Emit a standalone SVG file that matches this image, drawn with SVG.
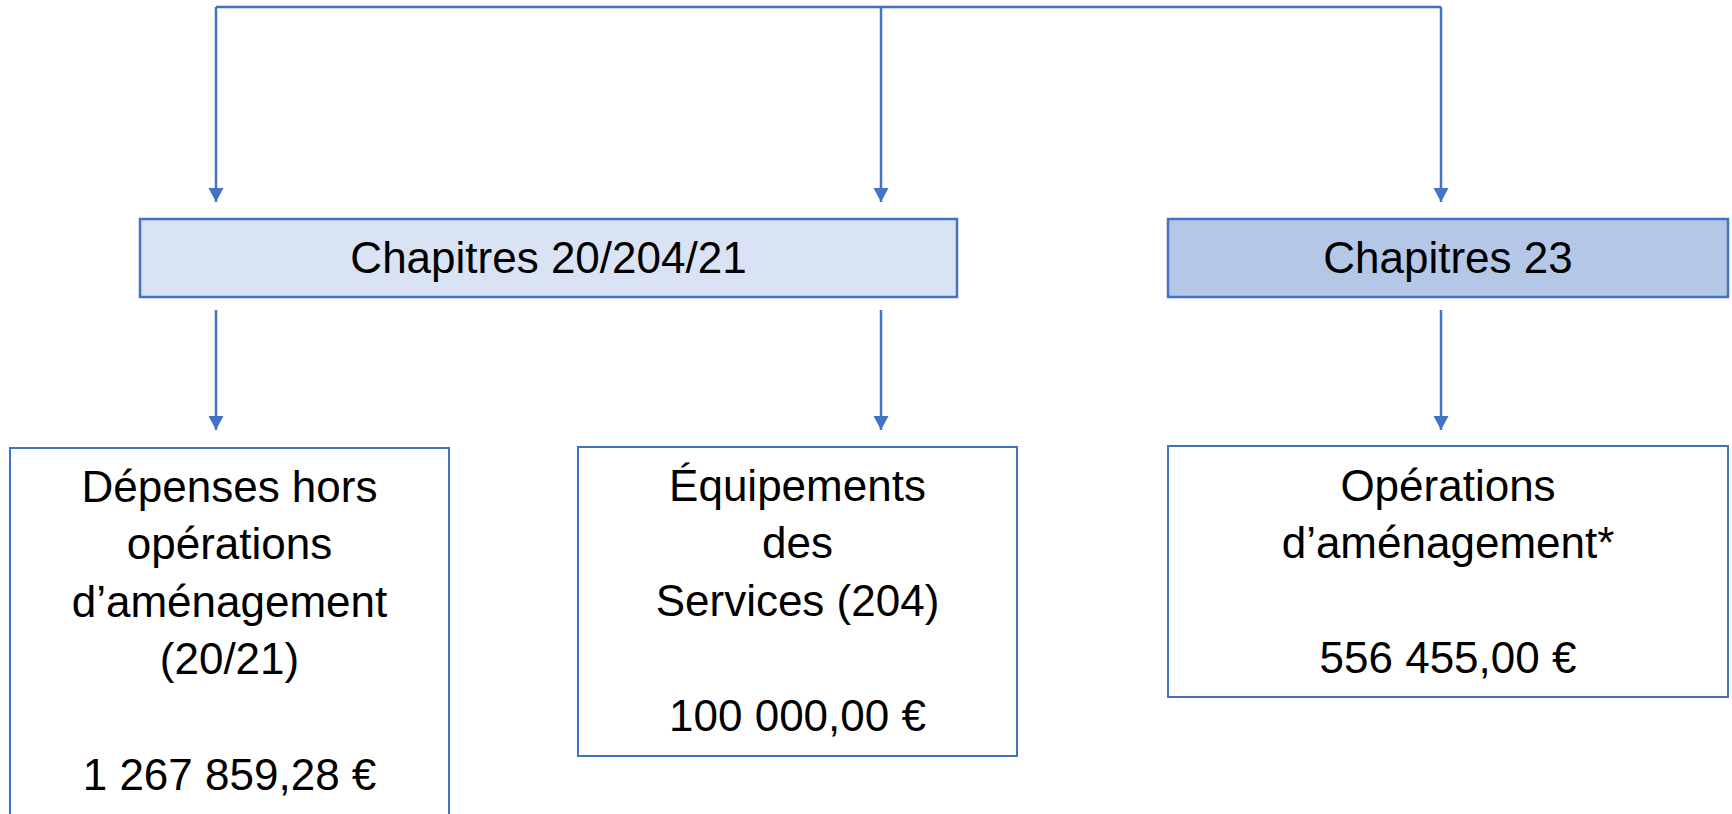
<svg xmlns="http://www.w3.org/2000/svg" width="1732" height="814" viewBox="0 0 1732 814">
  <style>
    .lbl { font-family: "Liberation Sans", Arial, sans-serif; font-size: 44px; fill: #000; text-anchor: middle; }
    .conn { fill: none; stroke: #4472C4; stroke-width: 2.5; }
    .head { fill: #4472C4; stroke: #4472C4; stroke-width: 2; }
    .node { fill: #FFFFFF; stroke: #4472C4; stroke-width: 2; }
    .light { fill: #DAE3F3; stroke: #4472C4; stroke-width: 2.5; }
    .mid { fill: #B4C7E7; stroke: #4472C4; stroke-width: 2.5; }
  </style>
  <defs>
    <marker id="arrow" markerUnits="userSpaceOnUse" markerWidth="16" markerHeight="16" refX="14" refY="7.5" orient="auto" viewBox="0 0 16 16">
      <path d="M0,0 L14,7.5 L0,15 Z" fill="#4472C4"/>
    </marker>
  </defs>
  <rect width="1732" height="814" fill="#FFFFFF"/>

  <g id="connectors">
    <path class="conn" d="M216,7 H1441"/>
    <path class="conn" d="M216,7 V202" marker-end="url(#arrow)"/>
    <path class="conn" d="M881,7 V202" marker-end="url(#arrow)"/>
    <path class="conn" d="M1441,7 V202" marker-end="url(#arrow)"/>
    <path class="conn" d="M216,310 V430" marker-end="url(#arrow)"/>
    <path class="conn" d="M881,310 V430" marker-end="url(#arrow)"/>
    <path class="conn" d="M1441,310 V430" marker-end="url(#arrow)"/>
  </g>

  <g id="chap-20-204-21">
    <rect class="light" x="140" y="219" width="817" height="78"/>
    <text class="lbl" x="548.5" y="273">Chapitres 20/204/21</text>
  </g>

  <g id="chap-23">
    <rect class="mid" x="1168" y="219" width="560" height="78"/>
    <text class="lbl" x="1448" y="273">Chapitres 23</text>
  </g>

  <g id="depenses">
    <rect class="node" x="10" y="448" width="439" height="380"/>
    <text class="lbl" x="229.5" y="502">Dépenses hors</text>
    <text class="lbl" x="229.5" y="559">opérations</text>
    <text class="lbl" x="229.5" y="617">d’aménagement</text>
    <text class="lbl" x="229.5" y="674">(20/21)</text>
    <text class="lbl" x="229.5" y="790">1 267 859,28 €</text>
  </g>

  <g id="equipements">
    <rect class="node" x="578" y="447" width="439" height="309"/>
    <text class="lbl" x="797.5" y="501">Équipements</text>
    <text class="lbl" x="797.5" y="558">des</text>
    <text class="lbl" x="797.5" y="616">Services (204)</text>
    <text class="lbl" x="797.5" y="731">100 000,00 €</text>
  </g>

  <g id="operations">
    <rect class="node" x="1168" y="446" width="560" height="251"/>
    <text class="lbl" x="1448" y="501">Opérations</text>
    <text class="lbl" x="1448" y="558">d’aménagement*</text>
    <text class="lbl" x="1448" y="673">556 455,00 €</text>
  </g>
</svg>
